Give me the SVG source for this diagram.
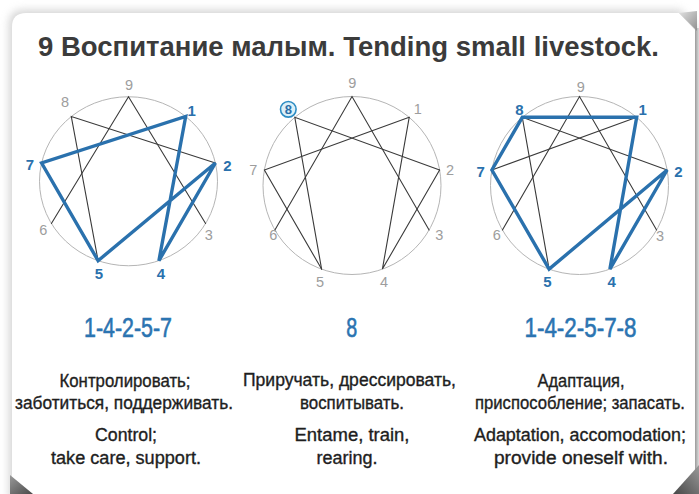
<svg xmlns="http://www.w3.org/2000/svg" width="699" height="494" viewBox="0 0 699 494">
<defs>
<filter id="soft" x="-5%" y="-5%" width="110%" height="110%"><feGaussianBlur stdDeviation="4"/></filter>
<linearGradient id="curl" x1="0" y1="0" x2="1" y2="1"><stop offset="0" stop-color="#e2e2e2"/><stop offset="1" stop-color="#8f8f8f"/></linearGradient>
<linearGradient id="edge" x1="0" y1="0" x2="1" y2="0"><stop offset="0" stop-color="#9a9a9a"/><stop offset="1" stop-color="#dcdcdc"/></linearGradient>
<linearGradient id="foldL" x1="0" y1="0" x2="1" y2="1"><stop offset="0" stop-color="#9a9a9a"/><stop offset="1" stop-color="#4a4a4a"/></linearGradient>
<linearGradient id="foldR" x1="1" y1="0" x2="0" y2="1"><stop offset="0" stop-color="#9a9a9a"/><stop offset="1" stop-color="#474747"/></linearGradient>
<style>
.ring{fill:none;stroke:#b5b5b5;stroke-width:1}
.ln{fill:none;stroke:#3a3a3a;stroke-width:1.1;stroke-linecap:round}
.hl{fill:none;stroke:#2a71ad;stroke-width:3.4;stroke-linejoin:miter;stroke-linecap:round}
.num{font-family:"Liberation Sans",Arial,sans-serif;font-size:14.5px;fill:#9d9d9d;text-anchor:middle}
.numb{font-family:"Liberation Sans",Arial,sans-serif;font-size:15px;font-weight:bold;fill:#2a71ad;text-anchor:middle}
.seq{font-family:"Liberation Sans",Arial,sans-serif;font-size:27px;fill:#2b74b1;stroke:#2b74b1;stroke-width:0.6;text-anchor:middle}
.body{font-family:"Liberation Sans",Arial,sans-serif;font-size:17.5px;fill:#1e1e1e;stroke:#1e1e1e;stroke-width:0.35;text-anchor:middle}
.title{font-family:"Liberation Sans",Arial,sans-serif;font-size:28px;font-weight:bold;fill:#3b3b3b}
</style>
</defs>

<rect width="699" height="494" fill="#ffffff"/>
<g id="card">
<path d="M24,10 H680 L697,27 V500 H9 V25 Q9,10 24,10 Z" fill="#b0b0b0" opacity="0.55" filter="url(#soft)"/>
<rect x="695" y="28" width="4" height="466" fill="url(#edge)"/>
<path d="M26,13 H679 L695,30 V494 H12 V27 Q12,13 26,13 Z" fill="#ffffff"/>
<polygon points="679,13 697,11 697,31" fill="url(#curl)"/>
<polygon points="10,475 33,494 10,494" fill="url(#foldL)"/>
<polygon points="699,465 673,494 699,494" fill="url(#foldR)"/>
</g>

<text id="title" class="title" x="38" y="56" textLength="621" lengthAdjust="spacingAndGlyphs">9 Воспитание малым. Tending small livestock.</text>

<!-- Left enneagram -->
<g id="ennea-left">
<ellipse class="ring" cx="128.5" cy="181.25" rx="89" ry="84.5"/>
<g id="conn-left">
<polyline class="ln" points="205.6,223.5 128.5,96.7 51.4,223.5"/>
<polyline class="ln" points="215.4,163 71.3,116.5 98.1,260.7"/>
<polygon class="hl" points="185.7,116.5 158.9,260.7 215.4,163 98.1,260.7 41.6,163"/>
</g>
<g id="labels-left">
<text class="num" x="129" y="90">9</text>
<text class="numb" x="191.7" y="115.5">1</text>
<text class="numb" x="227.3" y="170.5">2</text>
<text class="num" x="208.7" y="240">3</text>
<text class="numb" x="161" y="279">4</text>
<text class="numb" x="99" y="279">5</text>
<text class="num" x="43.3" y="235">6</text>
<text class="numb" x="30" y="170">7</text>
<text class="num" x="65" y="106.7">8</text>
</g>
</g>

<!-- Middle enneagram -->
<g id="ennea-mid">
<circle class="ring" cx="352" cy="185.5" r="89"/>
<g id="conn-mid">
<polyline class="ln" points="429.1,230 352,96.5 274.9,230"/>
<polyline class="ln" points="439.6,170 294.8,117.3 321.6,269.1"/>
<polyline class="ln" points="409.2,117.3 382.4,269.1 439.6,170"/>
<polyline class="ln" points="409.2,117.3 264.4,170 321.6,269.1"/>
</g>
<g id="labels-mid">
<text class="num" x="352.3" y="88.3">9</text>
<text class="num" x="417.7" y="114.3">1</text>
<text class="num" x="450" y="175">2</text>
<text class="num" x="439.3" y="240">3</text>
<text class="num" x="384" y="286.7">4</text>
<text class="num" x="320" y="286.7">5</text>
<text class="num" x="273.3" y="240">6</text>
<text class="num" x="253.3" y="175">7</text>
<g id="mid-8">
<circle cx="288.3" cy="109.3" r="7.8" fill="#dcf0f8" stroke="#2d8cc3" stroke-width="1.6"/>
<text class="numb" x="288.3" y="114.3" style="font-size:13px;fill:#2a6ea8">8</text>
</g>
</g>
</g>

<!-- Right enneagram -->
<g id="ennea-right">
<circle class="ring" cx="579.5" cy="185.5" r="89"/>
<g id="conn-right">
<polyline class="ln" points="656.6,230 579.5,96.5 502.4,230"/>
<polyline class="ln" points="667.1,170 522.3,117.3 549.1,269.1"/>
<line class="ln" x1="636.7" y1="117.3" x2="491.9" y2="170"/>
<polygon class="hl" points="522.3,117.3 636.7,117.3 609.9,269.1 667.1,170 549.1,269.1 491.9,170"/>
</g>
<g id="labels-right">
<text class="num" x="580.7" y="91.7">9</text>
<text class="numb" x="642.7" y="114.8">1</text>
<text class="numb" x="678.3" y="177.2">2</text>
<text class="num" x="660" y="240.7">3</text>
<text class="numb" x="611.7" y="287.2">4</text>
<text class="numb" x="547.3" y="287.2">5</text>
<text class="num" x="496.7" y="240">6</text>
<text class="numb" x="480.7" y="176.5">7</text>
<text class="numb" x="519.3" y="114.8">8</text>
</g>
</g>

<!-- Sequences -->
<g id="seq">
<text class="seq" x="128" y="337" textLength="88" lengthAdjust="spacingAndGlyphs">1-4-2-5-7</text>
<text class="seq" x="351.7" y="337" textLength="11" lengthAdjust="spacingAndGlyphs">8</text>
<text class="seq" x="580.5" y="337" textLength="112" lengthAdjust="spacingAndGlyphs">1-4-2-5-7-8</text>
</g>

<!-- Descriptions -->
<g id="desc-left">
<text class="body" x="125" y="387" textLength="131" lengthAdjust="spacingAndGlyphs">Контролировать;</text>
<text class="body" x="124" y="409" textLength="218" lengthAdjust="spacingAndGlyphs">заботиться, поддерживать.</text>
<text class="body" x="126" y="441" textLength="62" lengthAdjust="spacingAndGlyphs">Control;</text>
<text class="body" x="126" y="464" textLength="150" lengthAdjust="spacingAndGlyphs">take care, support.</text>
</g>
<g id="desc-mid">
<text class="body" x="349.5" y="386" textLength="213" lengthAdjust="spacingAndGlyphs">Приручать, дрессировать,</text>
<text class="body" x="352" y="409" textLength="104" lengthAdjust="spacingAndGlyphs">воспитывать.</text>
<text class="body" x="352" y="441" textLength="115" lengthAdjust="spacingAndGlyphs">Entame, train,</text>
<text class="body" x="347" y="464" textLength="61" lengthAdjust="spacingAndGlyphs">rearing.</text>
</g>
<g id="desc-right">
<text class="body" x="581" y="387" textLength="87" lengthAdjust="spacingAndGlyphs">Адаптация,</text>
<text class="body" x="580" y="409" textLength="210" lengthAdjust="spacingAndGlyphs">приспособление; запасать.</text>
<text class="body" x="580" y="441" textLength="212" lengthAdjust="spacingAndGlyphs">Adaptation, accomodation;</text>
<text class="body" x="581" y="464" textLength="174" lengthAdjust="spacingAndGlyphs">provide oneself with.</text>
</g>
</svg>
